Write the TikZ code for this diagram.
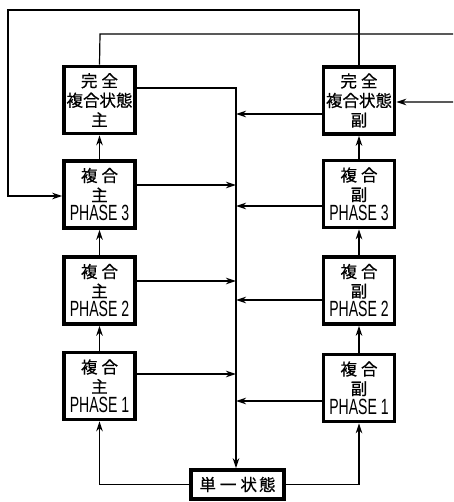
\documentclass[tikz,border=0pt]{standalone}
\usepackage{fontspec}
\newfontfamily\jp{Noto Sans CJK JP}[FakeBold=0.6]
\newfontfamily\nar[FakeStretch=0.64]{Liberation Sans}
\usetikzlibrary{arrows.meta}
\tikzset{
  box/.style={draw, line width=3.6pt, minimum width=71pt, minimum height=67pt, inner sep=0pt,
    align=center, font=\jp\fontsize{16.5}{19.5}\selectfont},
  conn/.style={line width=1.2pt},
  arr/.style={conn, -{Stealth[length=10pt,width=6.5pt]}},
}
\newcommand{\ph}[1]{{\nar\fontsize{22}{20}\selectfont PHASE #1}}
\begin{document}
\begin{tikzpicture}[x=1pt,y=-1pt]
\clip (0,0) rectangle (453,502);
\fill[white] (0,0) rectangle (453,502);
% left column
\node[box] (L4) at (99.5,100) {完\hspace{4pt}全\\複合状態\\主};
\node[box] (L3) at (99.5,194.5) {複\hspace{4pt}合\\主\\\ph{3}};
\node[box] (L2) at (99.5,290.5) {複\hspace{4pt}合\\主\\\ph{2}};
\node[box] (L1) at (99.5,386) {複\hspace{4pt}合\\主\\\ph{1}};
% right column
\node[box] (R4) at (359,100.5) {完\hspace{4pt}全\\複合状態\\副};
\node[box] (R3) at (359,194) {複\hspace{4pt}合\\副\\\ph{3}};
\node[box] (R2) at (359,290.5) {複\hspace{4pt}合\\副\\\ph{2}};
\node[box] (R1) at (359,388) {複\hspace{4pt}合\\副\\\ph{1}};
% bottom
\node[box, minimum width=93pt, minimum height=29pt] (B) at (237.5,484.5) {単\hspace{4pt}一\hspace{4pt}状\hspace{2pt}態};
% trunk
\coordinate (top) at (236,88);
\draw[arr] (L4.east |- top) -- (top) -- (top |- B.north);
% arrows into trunk
\coordinate (a3) at (236,185);
\coordinate (a2) at (236,281);
\coordinate (a1) at (236,374);
\coordinate (b4) at (236,114);
\coordinate (b3) at (236,206);
\coordinate (b2) at (236,300);
\coordinate (b1) at (236,401);
\draw[arr] (L3.east |- a3) -- (a3);
\draw[arr] (L2.east |- a2) -- (a2);
\draw[arr] (L1.east |- a1) -- (a1);
\draw[arr] (R4.west |- b4) -- (b4);
\draw[arr] (R3.west |- b3) -- (b3);
\draw[arr] (R2.west |- b2) -- (b2);
\draw[arr] (R1.west |- b1) -- (b1);
% column arrows
\draw[arr] (L3) -- (L4);
\draw[arr] (L2) -- (L3);
\draw[arr] (L1) -- (L2);
\draw[arr] (R3) -- (R4);
\draw[arr] (R2) -- (R3);
\draw[arr] (R1) -- (R2);
% bottom feeds
\draw[arr] (B.west) -| (L1.south);
\draw[arr] (B.east) -| (R1.south);
% feedback loops
\coordinate (f1a) at (359,10);
\coordinate (f1b) at (8,10);
\coordinate (f1c) at (8,196);
\draw[arr] (R4.north) -- (f1a) -- (f1b) -- (f1c) -- (L3.west |- f1c);
\coordinate (f2a) at (100,34);
\coordinate (f2b) at (470,34);
\coordinate (f2c) at (470,102);
\draw[arr] (L4.north) -- (f2a) -- (f2b) -- (f2c) -- (R4.east |- f2c);
\end{tikzpicture}
\end{document}
